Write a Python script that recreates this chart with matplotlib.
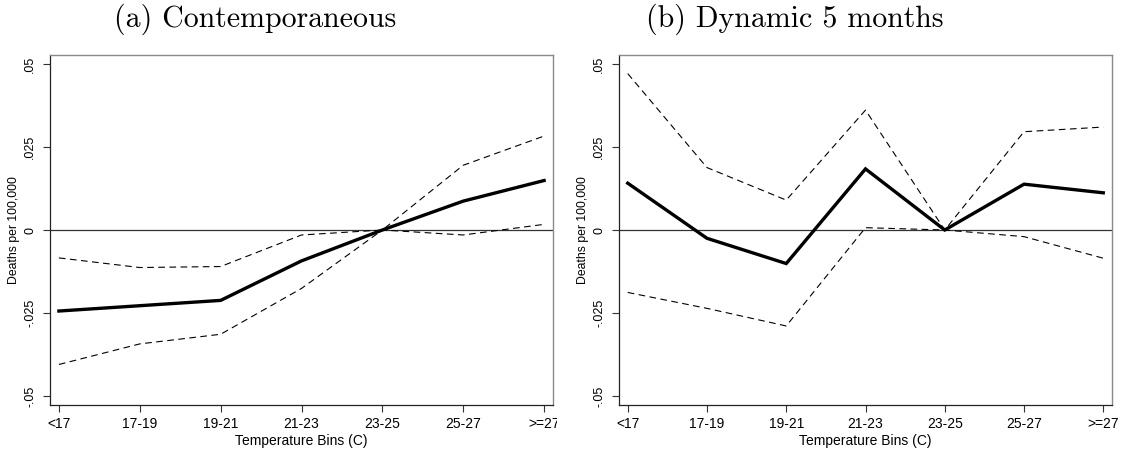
import matplotlib
matplotlib.use("Agg")
import matplotlib.pyplot as plt
from matplotlib.transforms import Bbox, TransformedBbox

bins = ["<17", "17-19", "19-21", "21-23", "23-25", "25-27", ">=27"]
yticks = [-0.05, -0.025, 0, 0.025, 0.05]
yticklabels = ["-.05", "-.025", "0", ".025", ".05"]

a_est = [-0.0244, -0.0228, -0.0212, -0.0093, 0.0, 0.0087, 0.0149]
a_hi = [-0.0084, -0.0113, -0.0110, -0.0015, 0.0, 0.0195, 0.0283]
a_lo = [-0.0405, -0.0343, -0.0314, -0.0176, 0.0, -0.0015, 0.0017]

b_est = [0.0141, -0.0025, -0.0101, 0.0184, 0.0, 0.0138, 0.0112]
b_hi = [0.0471, 0.0188, 0.0090, 0.0361, 0.0, 0.0296, 0.0310]
b_lo = [-0.0188, -0.0236, -0.0289, 0.0007, 0.0, -0.0020, -0.0085]

titles = ["(a) Contemporaneous", "(b) Dynamic 5 months"]

W, H = 1140, 451
fig = plt.figure(figsize=(W / 100, H / 100), dpi=100)

tickfont = "Liberation Sans"
panels = [
    (50, 553, a_est, a_hi, a_lo, titles[0], 255),
    (619, 1112, b_est, b_hi, b_lo, titles[1], 795),
]
x = list(range(1, len(bins) + 1))
axes = []
for (x0, x1, est, hi, lo, title, tcx) in panels:
    ax = fig.add_axes([x0 / W, (H - 405) / H, (x1 - x0) / W, 350 / H])
    axes.append(ax)
    ax.axhline(0, color="#333333", lw=0.9, zorder=1)
    ax.plot(x, hi, color="black", lw=0.8, dashes=(6, 4), zorder=2)
    ax.plot(x, lo, color="black", lw=0.8, dashes=(6, 4), zorder=2)
    ax.plot(x, est, color="black", lw=2.4, zorder=3, solid_joinstyle="miter")
    ax.set_xlim(1 - 0.11, 7 + 0.11)
    ax.set_ylim(-0.0527, 0.0527)
    ax.set_xticks(x)
    ax.set_xticklabels(bins, fontfamily=tickfont, fontsize=10)
    ax.set_yticks(yticks)
    ax.set_yticklabels(yticklabels, fontfamily=tickfont, fontsize=9,
                       rotation=90, va="center")
    ax.tick_params(axis="x", direction="out", length=5, width=0.8,
                   color="#333333", pad=4)
    ax.tick_params(axis="y", direction="out", length=5, width=0.8,
                   color="#333333", pad=5)
    ax.set_xlabel("Temperature Bins (C)", fontfamily=tickfont, fontsize=10,
                  labelpad=2)
    ax.set_ylabel("Deaths per 100,000", fontfamily=tickfont, fontsize=8.8,
                  labelpad=3)
    for s in ["left", "bottom"]:
        ax.spines[s].set_color("#222222")
        ax.spines[s].set_linewidth(0.9)
    for s in ["top", "right"]:
        ax.spines[s].set_color("#8a8a8a")
        ax.spines[s].set_linewidth(1.0)
    fig.text(tcx / W, 1 - 19 / H, title, fontfamily="cmr10", fontsize=21.5,
             ha="center", va="center")

# clip the overflowing last tick label of the left panel
fig.canvas.draw()
lbl = axes[0].get_xticklabels()[-1]
lbl.set_clip_box(TransformedBbox(Bbox([[0, 0], [557 / W, 1]]), fig.transFigure))
lbl.set_clip_on(True)

fig.savefig("out.png", dpi=100)
